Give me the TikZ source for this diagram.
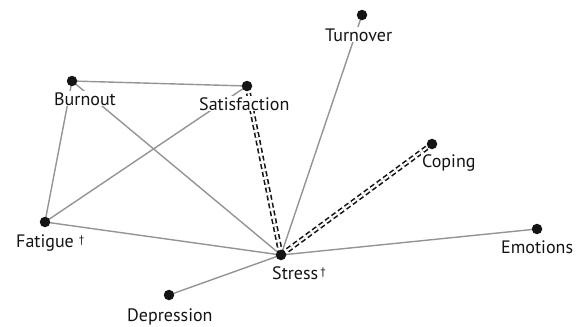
\documentclass[tikz,border=0pt]{standalone}
\usepackage{fontspec}
\setmainfont{PT Sans}
\newcommand{\mydag}{{\fontsize{11}{11}\selectfont\raisebox{0.55ex}{†}}}
\begin{document}
\begin{tikzpicture}[x=1pt,y=-1pt,
  dot/.style={circle,fill=black!92,inner sep=0pt,minimum size=10.5pt},
  lbl/.style={fill=white,inner sep=1pt,anchor=base west,text=black!92,font=\fontsize{18}{20}\selectfont},
  edge/.style={draw=black!42,line width=1.4pt},
  dedge/.style={draw=black!92,line width=1.6pt,double=white,double distance=2pt,dash pattern=on 5pt off 3pt}]
\useasboundingbox (0,0) rectangle (579,327);
% dot positions
\coordinate (burnout) at (72,81);
\coordinate (satisfaction) at (247,86);
\coordinate (turnover) at (362,15);
\coordinate (coping) at (432,144);
\coordinate (fatigue) at (45,222);
\coordinate (stress) at (281,255);
\coordinate (emotions) at (537,229);
\coordinate (depression) at (169,295);
% edges
\draw[edge] (burnout) -- (satisfaction);
\draw[edge] (burnout) -- (fatigue);
\draw[edge] (burnout) -- (stress);
\draw[edge] (satisfaction) -- (fatigue);
\draw[edge] (turnover) -- (stress);
\draw[edge] (fatigue) -- (stress);
\draw[edge] (emotions) -- (stress);
\draw[edge] (depression) -- (stress);
\draw[dedge] (stress) -- (satisfaction);
\draw[dedge] (stress) -- (coping);
% labels
\node[lbl] (lburnout) at (53,105) {Burnout};
\node[lbl] (lsatisfaction) at (198,110) {Satisfaction};
\node[lbl] (lturnover) at (324,41) {Turnover};
\node[lbl] (lcoping) at (421,167) {Coping};
\node[lbl] (lfatigue) at (15,247) {Fatigue\hspace{5pt}\mydag};
\node[lbl] (lstress) at (271,279) {Stress\hspace{2pt}\mydag};
\node[lbl] (lemotions) at (500,253) {Emotions};
\node[lbl] (ldepression) at (126,321) {Depression};
% dots
\foreach \n in {burnout,satisfaction,turnover,coping,fatigue,stress,emotions,depression}
  \node[dot] (d\n) at (\n) {};
\end{tikzpicture}
\end{document}
